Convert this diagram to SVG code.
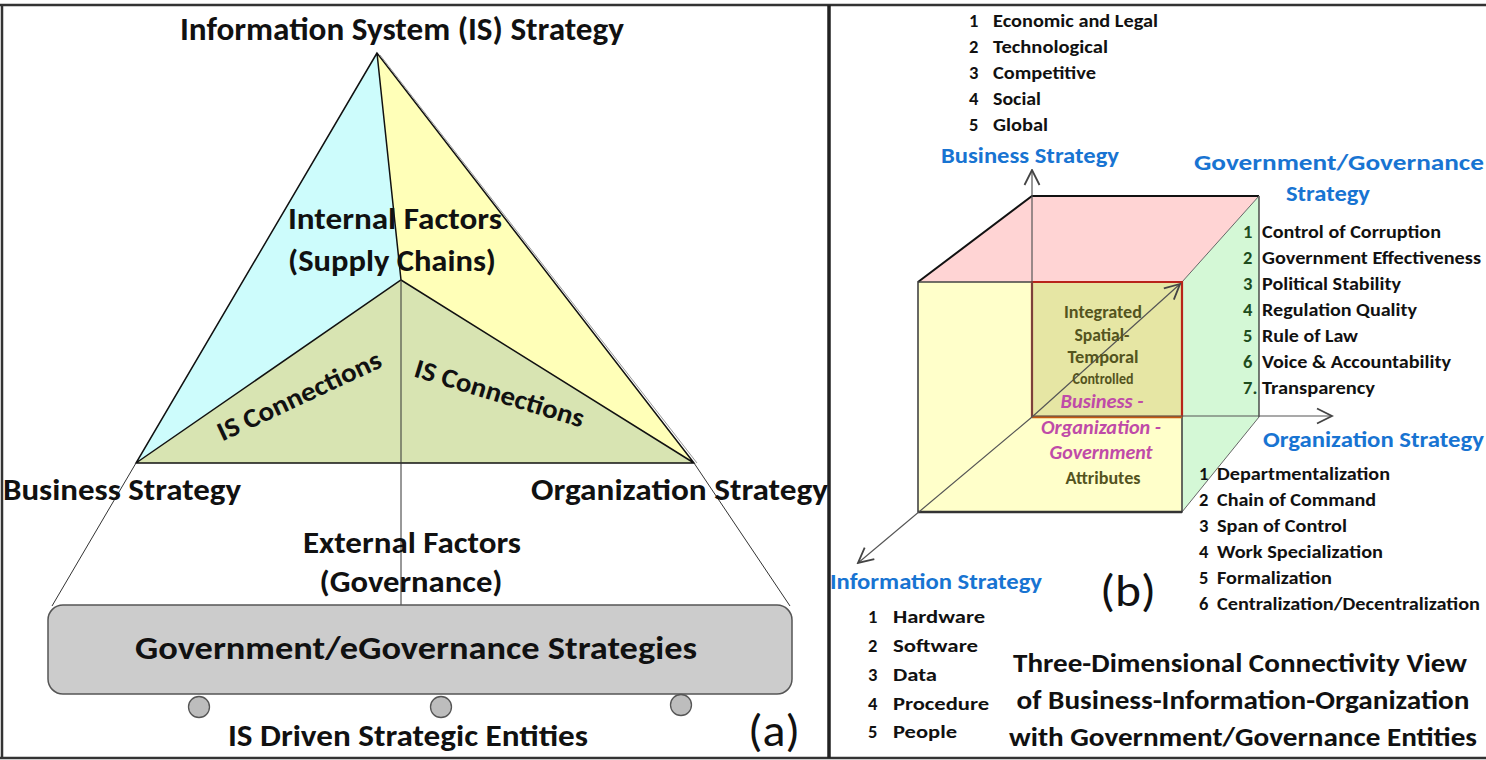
<svg xmlns="http://www.w3.org/2000/svg" width="1486" height="760" viewBox="0 0 1486 760">
  <style>
    text { font-family: Carlito, "Liberation Sans Narrow", "Liberation Sans", sans-serif; font-weight: bold; fill: #111; }
    .big { font-size: 30px; }
    .blue { fill: #1874d2; font-size: 22px; }
    .item { font-size: 18.5px; }
    .num-g { fill: #1e4d1e; }
    .olive { fill: #54541e; font-size: 17px; }
    .pink { fill: #bf4ba8; font-style: italic; font-size: 19.5px; }
    .light { font-weight: normal; font-size: 46px; }
    .edge { stroke: #111; stroke-width: 1.5; fill: none; }
    .axis { stroke: #555; stroke-width: 1.2; fill: none; marker-end: url(#open); }
    .thin { stroke: #333; stroke-width: 1; fill: none; }
  </style>
  <defs>
    <marker id="open" viewBox="0 0 12 12" refX="11" refY="6" markerWidth="18" markerHeight="18" markerUnits="userSpaceOnUse" orient="auto">
      <path d="M1,1 L11,6 L1,11" fill="none" stroke="#444" stroke-width="1.2"/>
    </marker>
  </defs>

  <rect width="1486" height="760" fill="#fff"/>

  <!-- frame and panel divider -->
  <g id="frame">
    <path d="M0,5 H1486 M2,5 V758 M0,758 H1486" stroke="#333" stroke-width="2.5" fill="none"/>
    <line x1="829" y1="5" x2="829" y2="758" stroke="#222" stroke-width="3.5"/>
  </g>

  <!-- (a) IS strategy triangle -->
  <g id="triangle">
    <polygon points="377,53 136,463 401,280" fill="#cdfcfc"/>
    <polygon points="377,53 694,463 401,280" fill="#ffffb8"/>
    <polygon points="136,463 401,280 694,463" fill="#d8e4b2"/>
    <path d="M377,53 L136,463 H694 Z M377,53 L401,280 M136,463 L401,280 L694,463" class="edge"/>
    <path d="M380,55 L697,463" stroke="#999" stroke-width="1" fill="none"/>
  </g>

  <g id="connectors-a">
    <line x1="401" y1="280" x2="401" y2="606" class="thin"/>
    <line x1="136" y1="463" x2="52" y2="606" class="thin"/>
    <line x1="694" y1="463" x2="790" y2="606" class="thin"/>
  </g>

  <g id="governance-box">
    <rect x="48" y="605" width="744" height="89" rx="15" fill="#cccccc" stroke="#555" stroke-width="1.5"/>
    <text x="416" y="659" font-size="33" text-anchor="middle" textLength="562" lengthAdjust="spacingAndGlyphs">Government/eGovernance Strategies</text>
  </g>

  <g id="entities">
    <circle cx="199" cy="707" r="10.5" fill="#bdbdbd" stroke="#555" stroke-width="1.3"/>
    <circle cx="441" cy="707" r="10.5" fill="#bdbdbd" stroke="#555" stroke-width="1.3"/>
    <circle cx="681" cy="705" r="10.5" fill="#bdbdbd" stroke="#555" stroke-width="1.3"/>
    <text x="408" y="746" class="big" text-anchor="middle" textLength="360" lengthAdjust="spacingAndGlyphs">IS Driven Strategic Entities</text>
  </g>

  <g id="labels-a">
    <text x="402" y="40" font-size="32" text-anchor="middle" textLength="444" lengthAdjust="spacingAndGlyphs">Information System (IS) Strategy</text>
    <text x="395" y="229" class="big" text-anchor="middle" textLength="214" lengthAdjust="spacingAndGlyphs">Internal Factors</text>
    <text x="392" y="271" class="big" text-anchor="middle" textLength="208" lengthAdjust="spacingAndGlyphs">(Supply Chains)</text>
    <text text-anchor="middle" transform="translate(303,404) rotate(-25)" textLength="178" lengthAdjust="spacingAndGlyphs" style="font-size:27px">IS Connections</text>
    <text text-anchor="middle" transform="translate(497,402) rotate(17)" textLength="176" lengthAdjust="spacingAndGlyphs" style="font-size:27px">IS Connections</text>
    <text x="3" y="500" class="big" textLength="238" lengthAdjust="spacingAndGlyphs">Business Strategy</text>
    <text x="531" y="500" class="big" textLength="297" lengthAdjust="spacingAndGlyphs">Organization Strategy</text>
    <text x="412" y="553" class="big" text-anchor="middle" textLength="218" lengthAdjust="spacingAndGlyphs">External Factors</text>
    <text x="411" y="592" class="big" text-anchor="middle" textLength="183" lengthAdjust="spacingAndGlyphs">(Governance)</text>
    <text x="748" y="746" class="light" textLength="52" lengthAdjust="spacingAndGlyphs">(a)</text>
  </g>

  <!-- (b) three-dimensional cube -->
  <g id="cube">
    <polygon points="918,282 1032,196 1259,196 1182,282" fill="#ffd4d4"/>
    <polygon points="1182,282 1259,196 1259,417 1182,512" fill="#d4f8d6"/>
    <rect x="918" y="282" width="264" height="230" fill="#ffffc4" fill-opacity="0.9"/>
    <rect x="1032" y="282" width="150" height="135" fill="#e6e6a4"/>
    <path d="M918,282 L1032,196 H1259" stroke="#111" stroke-width="2" fill="none"/>
    <line x1="1259" y1="196" x2="1259" y2="417" stroke="#333" stroke-width="1.3"/>
    <path d="M1182,282 L1259,196 M1182,512 L1259,417" stroke="#666" stroke-width="1" fill="none"/>
    <path d="M918,282 H1182 V512 H918 Z" stroke="#444" stroke-width="1.6" fill="none"/>
    <line x1="918" y1="512" x2="1182" y2="512" stroke="#333" stroke-width="2.5"/>
    <path d="M1032,417 V282 H1182 V417" stroke="#b8241a" stroke-width="2.2" fill="none"/>
    <line x1="1032" y1="417" x2="1182" y2="417" stroke="#c55a11" stroke-width="2.5"/>
  </g>

  <g id="connectors-b">
    <line x1="1032" y1="417" x2="1032" y2="170" class="axis"/>
    <line x1="1032" y1="416" x2="1332" y2="416" class="axis"/>
    <line x1="1032" y1="417" x2="858" y2="563" class="axis"/>
    <line x1="1032" y1="417" x2="1180" y2="284" class="axis"/>
  </g>

  <g id="cube-text">
    <text x="1103" y="318" class="olive" text-anchor="middle" textLength="78" lengthAdjust="spacingAndGlyphs">Integrated</text>
    <text x="1102" y="341" class="olive" text-anchor="middle" textLength="55" lengthAdjust="spacingAndGlyphs">Spatial-</text>
    <text x="1103" y="363" class="olive" text-anchor="middle" textLength="71" lengthAdjust="spacingAndGlyphs">Temporal</text>
    <text x="1103" y="384" class="olive" text-anchor="middle" textLength="61" lengthAdjust="spacingAndGlyphs" style="font-size:15px">Controlled</text>
    <text x="1102" y="408" class="pink" text-anchor="middle" textLength="83" lengthAdjust="spacingAndGlyphs">Business -</text>
    <text x="1101" y="434" class="pink" text-anchor="middle" textLength="120" lengthAdjust="spacingAndGlyphs">Organization -</text>
    <text x="1101" y="459" class="pink" text-anchor="middle" textLength="103" lengthAdjust="spacingAndGlyphs">Government</text>
    <text x="1103" y="484" class="olive" text-anchor="middle" textLength="75" lengthAdjust="spacingAndGlyphs">Attributes</text>
  </g>

  <g id="business-strategy">
    <text x="1030" y="163" class="blue" text-anchor="middle" textLength="178" lengthAdjust="spacingAndGlyphs">Business Strategy</text>
    <g class="item">
      <text x="969" y="27">1</text><text x="993" y="27" textLength="165" lengthAdjust="spacingAndGlyphs">Economic and Legal</text>
      <text x="969" y="53">2</text><text x="993" y="53" textLength="115" lengthAdjust="spacingAndGlyphs">Technological</text>
      <text x="969" y="79">3</text><text x="993" y="79" textLength="103" lengthAdjust="spacingAndGlyphs">Competitive</text>
      <text x="969" y="105">4</text><text x="993" y="105" textLength="48" lengthAdjust="spacingAndGlyphs">Social</text>
      <text x="969" y="131">5</text><text x="993" y="131" textLength="55" lengthAdjust="spacingAndGlyphs">Global</text>
    </g>
  </g>

  <g id="government-strategy">
    <text x="1339" y="170" class="blue" text-anchor="middle" textLength="290" lengthAdjust="spacingAndGlyphs">Government/Governance</text>
    <text x="1328" y="201" class="blue" text-anchor="middle" textLength="84" lengthAdjust="spacingAndGlyphs">Strategy</text>
    <g class="item">
      <text x="1243" y="238" class="num-g">1</text><text x="1262" y="238" textLength="179" lengthAdjust="spacingAndGlyphs">Control of Corruption</text>
      <text x="1243" y="264" class="num-g">2</text><text x="1262" y="264" textLength="219" lengthAdjust="spacingAndGlyphs">Government Effectiveness</text>
      <text x="1243" y="290" class="num-g">3</text><text x="1262" y="290" textLength="139" lengthAdjust="spacingAndGlyphs">Political Stability</text>
      <text x="1243" y="316" class="num-g">4</text><text x="1262" y="316" textLength="155" lengthAdjust="spacingAndGlyphs">Regulation Quality</text>
      <text x="1243" y="342" class="num-g">5</text><text x="1262" y="342" textLength="96" lengthAdjust="spacingAndGlyphs">Rule of Law</text>
      <text x="1243" y="368" class="num-g">6</text><text x="1262" y="368" textLength="189" lengthAdjust="spacingAndGlyphs">Voice &amp; Accountability</text>
      <text x="1243" y="394" class="num-g">7.</text><text x="1262" y="394" textLength="113" lengthAdjust="spacingAndGlyphs">Transparency</text>
    </g>
  </g>

  <g id="organization-strategy">
    <text x="1263" y="447" class="blue" textLength="221" lengthAdjust="spacingAndGlyphs">Organization Strategy</text>
    <g class="item">
      <text x="1199" y="480">1</text><text x="1217" y="480" textLength="173" lengthAdjust="spacingAndGlyphs">Departmentalization</text>
      <text x="1199" y="506">2</text><text x="1217" y="506" textLength="159" lengthAdjust="spacingAndGlyphs">Chain of Command</text>
      <text x="1199" y="532">3</text><text x="1217" y="532" textLength="130" lengthAdjust="spacingAndGlyphs">Span of Control</text>
      <text x="1199" y="558">4</text><text x="1217" y="558" textLength="166" lengthAdjust="spacingAndGlyphs">Work Specialization</text>
      <text x="1199" y="584">5</text><text x="1217" y="584" textLength="115" lengthAdjust="spacingAndGlyphs">Formalization</text>
      <text x="1199" y="610">6</text><text x="1217" y="610" textLength="263" lengthAdjust="spacingAndGlyphs">Centralization/Decentralization</text>
    </g>
  </g>

  <g id="information-strategy">
    <text x="830" y="589" class="blue" textLength="212" lengthAdjust="spacingAndGlyphs">Information Strategy</text>
    <g class="item">
      <text x="868" y="623">1</text><text x="893" y="623" textLength="92" lengthAdjust="spacingAndGlyphs">Hardware</text>
      <text x="868" y="652">2</text><text x="893" y="652" textLength="85" lengthAdjust="spacingAndGlyphs">Software</text>
      <text x="868" y="681">3</text><text x="893" y="681" textLength="44" lengthAdjust="spacingAndGlyphs">Data</text>
      <text x="868" y="710">4</text><text x="893" y="710" textLength="96" lengthAdjust="spacingAndGlyphs">Procedure</text>
      <text x="868" y="738">5</text><text x="893" y="738" textLength="64" lengthAdjust="spacingAndGlyphs">People</text>
    </g>
  </g>

  <g id="caption-b">
    <text x="1100" y="606" class="light" textLength="56" lengthAdjust="spacingAndGlyphs">(b)</text>
    <text x="1240" y="672" font-size="27" text-anchor="middle" textLength="454" lengthAdjust="spacingAndGlyphs">Three-Dimensional Connectivity View</text>
    <text x="1243" y="709" font-size="27" text-anchor="middle" textLength="453" lengthAdjust="spacingAndGlyphs">of Business-Information-Organization</text>
    <text x="1243" y="746" font-size="27" text-anchor="middle" textLength="468" lengthAdjust="spacingAndGlyphs">with Government/Governance Entities</text>
  </g>
</svg>
